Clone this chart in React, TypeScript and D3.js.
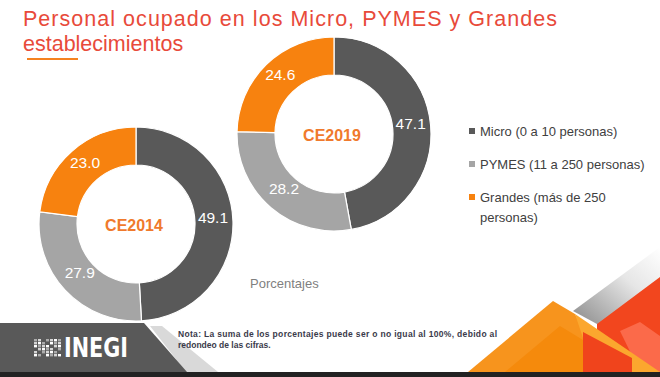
import React from "react";
import * as d3 from "d3";

const categories = ["Micro", "PYMES", "Grandes"];
const legendLines = [["Micro (0 a 10 personas)"], ["PYMES (11 a 250 personas)"], ["Grandes (más de 250", "personas)"]];
const ce2014 = [49.1, 27.9, 23.0];
const ce2019 = [47.1, 28.2, 24.6];
const yearLabels = ["CE2014", "CE2019"];
const colors = ["#595959", "#a5a5a5", "#f7820f"];

const W = 660, H = 377;
const font = "'Liberation Sans', Arial, sans-serif";

function Donut({ values, cx, cy, label }: { values: number[]; cx: number; cy: number; label: string }) {
  const pie = d3.pie<number>().sort(null).value((d) => d).startAngle(0).endAngle(2 * Math.PI);
  const outer = 97, inner = 59;
  const arc = d3.arc<d3.PieArcDatum<number>>().innerRadius(inner).outerRadius(outer);
  const labelArc = d3.arc<d3.PieArcDatum<number>>().innerRadius(77).outerRadius(77);
  const arcs = pie(values);
  return (
    <g transform={`translate(${cx},${cy})`}>
      {arcs.map((a, i) => (
        <path key={i} d={arc(a) || ""} fill={colors[i]} stroke="#ffffff" strokeWidth={1.2} />
      ))}
      {arcs.map((a, i) => {
        const [x, y] = labelArc.centroid(a);
        return (
          <text key={"t" + i} x={x} y={y - 4} fill="#ffffff" fontSize={15.5} fontFamily={font} textAnchor="middle" dominantBaseline="central">
            {values[i].toFixed(1)}
          </text>
        );
      })}
      <text x={-2} y={1} fill="#f07a2c" fontSize={16} fontWeight="bold" fontFamily={font} textAnchor="middle" dominantBaseline="central">
        {label}
      </text>
    </g>
  );
}

export default function App() {
  const legendY = [131, 164, 197];
  const iconCells: [number, number, number][] = [];
  for (let r = 0; r < 6; r++) {
    for (let c = 0; c < 7; c++) {
      if ((r * 7 + c * 3) % 5 !== 1) iconCells.push([c, r, ((r + c) % 3) * 0.25 + 0.5]);
    }
  }
  return (
    <svg width={W} height={H} viewBox={`0 0 ${W} ${H}`} style={{ position: "absolute", left: 0, top: 0, background: "#ffffff" }}>
      <defs>
        <linearGradient id="gstripe" x1="0" y1="1" x2="1" y2="0">
          <stop offset="0" stopColor="#8a8a8a" />
          <stop offset="0.6" stopColor="#e6e6e6" />
          <stop offset="1" stopColor="#ffffff" />
        </linearGradient>
      </defs>
      <rect x={0} y={0} width={W} height={H} fill="#ffffff" />
      {/* Title */}
      <text x={23} y={26} fill="#e84a3a" fontSize={21.5} fontFamily={font} textLength={534} lengthAdjust="spacing">
        Personal ocupado en los Micro, PYMES y Grandes
      </text>
      <text x={23} y={51} fill="#e84a3a" fontSize={21.5} fontFamily={font}>
        establecimientos
      </text>
      <rect x={27} y={58} width={51} height={2} fill="#f58220" />

      <Donut values={ce2019} cx={334} cy={134} label={yearLabels[1]} />
      <Donut values={ce2014} cx={136} cy={224} label={yearLabels[0]} />

      {/* Legend */}
      {categories.map((c, i) => (
        <g key={c}>
          <rect x={469} y={legendY[i] - 3} width={6} height={6} fill={colors[i]} />
          {legendLines[i].map((ln, j) => (
            <text key={j} x={480} y={legendY[i] + j * 20} fill="#404040" fontSize={13} fontFamily={font} dominantBaseline="central">
              {ln}
            </text>
          ))}
        </g>
      ))}

      <text x={250} y={283} fill="#7f7f7f" fontSize={13} fontFamily={font} dominantBaseline="central">
        Porcentajes
      </text>

      {/* Bottom decoration */}
      <polygon points="150,326 162,326 218,372 186,372" fill="#d9d9d9" />
      <polygon points="0,323 144,323 187,372 0,372" fill="#595959" />
      <g>
        {iconCells.map(([c, r, o], k) => (
          <rect key={k} x={34 + c * 4} y={339 + r * 3} width={3} height={2.4} fill="#ffffff" opacity={o} />
        ))}
      </g>
      <text x={64} y={357} fill="#ffffff" fontSize={27} fontWeight="bold" fontFamily="'DejaVu Sans', sans-serif" textLength={64} lengthAdjust="spacingAndGlyphs">
        INEGI
      </text>
      <text x={178} y={337} fill="#3a3a4a" fontSize={8.5} fontWeight="bold" fontFamily={font} textLength={319} lengthAdjust="spacing">
        Nota: La suma de los porcentajes puede ser o no igual al 100%, debido al
      </text>
      <text x={178} y={348} fill="#3a3a4a" fontSize={8.5} fontWeight="bold" fontFamily={font}>
        redondeo de las cifras.
      </text>

      {/* Right decoration */}
      <polygon points="597,323 660,276 660,372 597,372" fill="#f2461e" />
      <polygon points="573,311 660,247 660,277 597,324" fill="url(#gstripe)" />
      <polygon points="620,331 640,322 660,336 660,372 640,372" fill="#fb6a4a" />
      <polygon points="468,372 553,301 575,314 583,330 583,372" fill="#f7941d" />
      <polygon points="505,372 560,326 583,340 583,372" fill="#f58a0c" />
      <polygon points="575,314 660,372 632,372 583,338" fill="#fba72e" />
      <polygon points="583,332 632,358 632,372 583,372" fill="#f0441c" />
      <rect x={0} y={372} width={W} height={5} fill="#222222" />
    </svg>
  );
}
